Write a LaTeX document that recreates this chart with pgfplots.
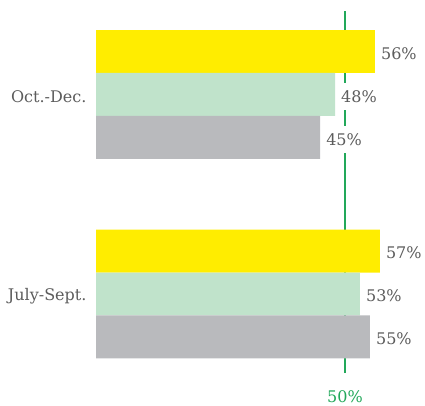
\documentclass[border=0pt]{standalone}
\usepackage{pgfplots}
\pgfplotsset{compat=1.18}
\usepackage{fontspec}
\setmainfont{DejaVu Serif}
\definecolor{barY}{HTML}{FFED00}
\definecolor{barG}{HTML}{C0E3CB}
\definecolor{barS}{HTML}{B9BABD}
\definecolor{refG}{HTML}{22A85A}
\definecolor{txt}{HTML}{5C5C5C}
\pgfplotsset{
  base/.style={
    at={(96pt,0pt)}, anchor=south west,
    scale only axis, width=298.8pt, height=406pt,
    xmin=0, xmax=60, ymin=-0.5614, ymax=1.4737,
    tick style={draw=none},
    axis line style={draw=none},
    major tick length=0pt,
    clip=false,
  }
}
\begin{document}
\begin{tikzpicture}
\path[use as bounding box] (0pt,0pt) rectangle (425pt,406pt);
\begin{axis}[base, xtick=\empty, ytick=\empty]
\addplot[draw=refG, line width=1.3pt] coordinates {(50,-0.396) (50,1.4185)};
\end{axis}
\begin{axis}[
  base,
  ytick={0,1}, yticklabels={July-Sept.,Oct.-Dec.},
  xtick={50}, xticklabels={50\%},
  every tick label/.append style={font=\fontsize{16}{19}\selectfont},
  yticklabel style={text=txt, anchor=east, xshift=-6pt, yshift=-2pt},
  xticklabel style={text=refG, anchor=center, yshift=9pt},
  /pgf/number format/assume math mode=true,
  bar label/.style={
    nodes near coords={\pgfmathprintnumber{\pgfplotspointmeta}\%},
    point meta=x,
    nodes near coords style={text=txt, anchor=west, xshift=3pt, yshift=-2pt,
      fill=white, inner sep=3pt, minimum height=27pt,
      font=\fontsize{16}{19}\selectfont},
  },
]
\addplot[xbar, bar width=0.2155, bar shift=0, fill=barY, draw=none, bar label]
  coordinates {(56,1.2155) (57,0.2155)};
\addplot[xbar, bar width=0.2155, bar shift=0, fill=barG, draw=none, bar label]
  coordinates {(48,1) (53,0)};
\addplot[xbar, bar width=0.2155, bar shift=0, fill=barS, draw=none, bar label]
  coordinates {(45,0.7845) (55,-0.2155)};
\end{axis}
\end{tikzpicture}
\end{document}
